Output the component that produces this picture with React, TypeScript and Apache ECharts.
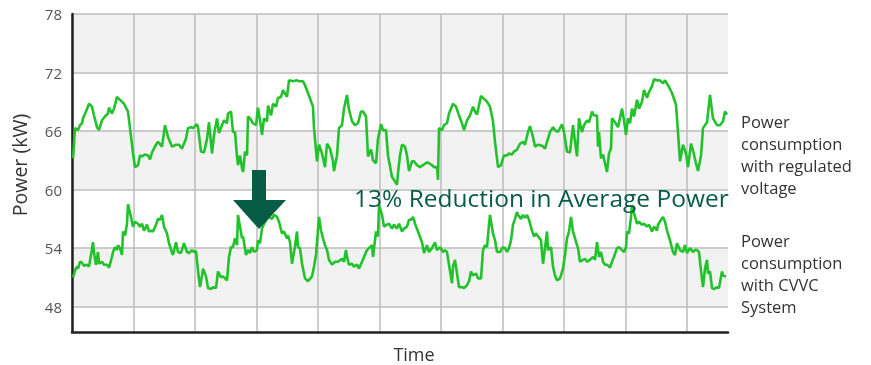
import React, { useEffect, useRef } from "react";
import * as echarts from "echarts";

const yTicks = [48, 54, 60, 66, 72, 78];
const yMin = 45.4;
const yMax = 78;
const timeMax = 656;
const timeStep = 61.5;

const regulated: [number, number][] = [
  [1,63.2],[3,66.3],[6,66.1],[8,66.6],[10,66.8],[11,67.3],[14,68.0],[17,68.8],[20,68.5],[22,67.6],[25,66.4],[27,66.1],[30,67.1],[33,67.5],[36,67.8],[37,68.4],[40,67.8],[42,68.3],[45,69.5],[48,69.2],[52,68.8],[56,68.0],[58,66.3],[60,64.6],[61,63.7],[63,62.3],[66,62.5],[68,63.5],[70,63.4],[73,63.6],[76,63.5],[78,63.1],[80,63.8],[84,64.6],[86,64.9],[90,64.4],[93,66.6],[96,65.4],[100,64.4],[104,64.6],[107,64.6],[110,64.2],[114,65.2],[116,66.3],[119,66.4],[121,66.3],[125,66.7],[126,66.4],[129,63.9],[132,63.8],[135,65.2],[137,66.9],[140,63.7],[142,65.6],[145,67.3],[147,65.8],[150,66.6],[152,67.1],[155,66.8],[156,67.8],[159,68.0],[161,65.9],[163,65.9],[165,63.4],[166,62.5],[168,63.5],[170,62.2],[171,61.8],[173,63.9],[175,63.5],[176,67.5],[178,67.3],[181,66.8],[184,66.6],[186,68.4],[189,66.4],[190,65.6],[192,67.3],[195,67.0],[196,68.6],[199,67.6],[201,68.8],[204,68.5],[206,69.4],[209,69.5],[211,70.2],[215,69.5],[217,71.2],
  [221,71.1],[225,71.2],[227,71.1],[231,71.1],[233,70.7],[236,69.9],[241,68.5],[242,66.3],[245,62.9],[247,64.6],[250,63.7],[253,62.3],[255,64.7],[258,64.2],[261,62.9],[262,61.9],[265,63.5],[267,66.3],[270,66.6],[272,68.3],[275,69.7],[277,68.2],[280,67.0],[283,66.6],[286,66.8],[289,68.0],[291,68.0],[294,67.5],[296,63.4],[299,64.1],[301,63.0],[304,62.7],[306,65.2],[309,66.7],[311,66.1],[314,66.1],[316,63.5],[320,61.3],[322,61.0],[325,60.5],[326,61.7],[328,63.5],[330,64.6],[333,64.4],[335,63.5],[337,61.9],[340,62.9],[342,62.9],[345,62.5],[348,62.3],[351,62.5],[355,62.8],[357,62.7],[360,62.5],[362,62.3],[365,62.3],[366,61.0],[367,66.3],[370,66.1],[372,66.6],[375,66.8],[377,67.8],[381,68.8],[384,68.5],[387,67.6],[390,66.8],[392,66.1],[395,67.1],[398,67.6],[401,68.5],[403,68.0],[405,67.7],[409,69.6],[411,69.4],[415,69.0],[418,68.5],[421,67.0],[423,64.9],[425,63.2],[426,62.3],[429,62.5],[432,63.5],[435,63.5],[437,63.7],[440,63.6],[442,63.9],[445,64.1],[448,64.7],
  [451,64.9],[453,64.6],[456,65.9],[458,66.5],[461,65.4],[463,64.4],[466,64.6],[470,64.5],[473,64.2],[475,64.9],[478,65.9],[481,66.4],[483,66.1],[486,65.9],[490,66.7],[492,65.9],[495,63.9],[498,63.8],[501,66.6],[503,64.9],[505,63.4],[507,67.3],[510,65.9],[512,66.6],[515,67.1],[517,66.9],[520,68.0],[522,67.6],[525,67.6],[526,64.4],[527,65.9],[529,63.2],[531,63.6],[535,61.8],[537,63.7],[539,64.2],[540,67.3],[543,66.9],[546,66.4],[550,68.3],[552,67.1],[554,65.6],[556,67.3],[558,66.8],[560,68.3],[562,67.5],[565,69.2],[567,68.3],[570,69.0],[572,70.2],[575,69.4],[577,70.0],[580,70.6],[582,71.3],[585,71.2],[588,71.2],[591,70.9],[593,71.2],[596,70.7],[600,69.9],[604,68.7],[606,65.9],[608,62.9],[611,64.6],[614,63.7],[616,62.3],[619,64.7],[621,64.0],[624,62.7],[626,61.9],[629,63.5],[631,66.3],[635,66.9],[638,69.7],[641,67.3],[645,66.6],[648,66.6],[651,67.0],[653,68.0],[655,67.7]
];

const cvvc: [number, number][] = [
  [1,51.0],[3,51.7],[5,52.1],[6,51.9],[8,52.6],[10,52.5],[12,52.2],[15,52.3],[17,52.1],[19,53.3],[21,54.6],[22,53.5],[24,52.3],[26,53.6],[27,52.4],[30,52.6],[32,52.3],[35,52.3],[37,52.0],[40,53.1],[41,53.6],[43,54.1],[45,53.8],[46,54.3],[48,54.0],[50,53.3],[51,55.7],[53,55.3],[55,56.5],[56,58.5],[59,57.2],[61,56.2],[63,56.7],[66,56.5],[68,56.2],[70,56.5],[72,55.8],[75,56.4],[77,55.7],[79,55.8],[81,55.7],[84,56.4],[86,57.0],[88,56.9],[90,57.4],[92,56.2],[95,55.5],[97,54.5],[100,53.5],[101,53.3],[104,54.6],[106,53.6],[109,53.5],[112,54.5],[115,53.6],[117,53.5],[120,53.8],[122,53.6],[124,53.7],[126,51.7],[128,50.0],[130,51.2],[131,51.9],[134,51.1],[136,49.9],[139,49.8],[141,50.0],[144,49.9],[146,51.6],[149,51.0],[151,51.1],[155,50.7],[157,53.1],[159,54.1],[161,54.1],[163,55.0],[165,54.3],[166,57.4],[168,56.2],[170,55.0],[171,55.2],[174,53.3],[176,53.8],[178,53.5],[180,54.1],[182,53.6],[185,53.8],[186,54.8],[188,54.5],[190,56.0],[192,56.5],[195,57.0],[197,57.2],[200,57.0],[202,57.4],[205,57.2],[207,56.7],[210,55.5],[212,55.7],[215,55.0],[216,55.3],[218,54.6],[220,52.4],[223,54.2],
  [225,55.7],[226,54.1],[228,54.0],[230,52.4],[231,51.9],[233,50.9],[236,50.6],[240,51.1],[242,52.1],[244,53.3],[245,54.6],[247,57.2],[249,55.8],[251,55.0],[253,54.3],[255,53.8],[257,52.8],[260,52.3],[263,52.6],[266,52.6],[270,52.9],[272,52.6],[274,53.8],[275,53.1],[277,52.3],[280,52.4],[282,52.1],[285,52.3],[287,51.9],[290,52.6],[292,53.1],[295,53.8],[297,54.0],[300,54.3],[301,53.1],[304,55.7],[306,55.2],[307,58.4],[310,57.4],[312,56.2],[315,56.4],[317,56.5],[320,56.0],[322,56.4],[325,56.0],[327,56.5],[330,55.7],[332,56.0],[335,56.2],[337,56.9],[339,56.9],[341,57.2],[343,56.5],[346,55.7],[350,54.6],[352,53.5],[355,54.3],[357,53.6],[360,54.0],[363,54.6],[365,53.8],[368,54.1],[371,53.6],[373,53.8],[375,53.6],[377,52.3],[380,50.4],[381,52.1],[383,52.8],[385,51.4],[387,50.0],[390,50.0],[392,49.9],[395,50.2],[397,50.6],[399,51.6],[401,51.2],[404,51.4],[406,50.9],[409,50.9],[411,53.8],[413,54.3],[415,54.1],[417,56.4],[418,57.4],[421,55.5],[423,54.8],[425,53.6],[428,53.6],[431,54.1],[433,54.0],[435,53.6],[437,54.0],[439,54.8],[441,56.4],[443,57.0],[445,57.7],
  [446,57.4],[449,57.0],[451,57.4],[453,57.1],[455,57.4],[457,56.9],[460,55.8],[462,55.2],[464,55.5],[466,55.2],[469,54.8],[471,52.4],[473,54.0],[475,55.7],[476,53.8],[479,54.1],[481,52.1],[483,51.2],[485,50.7],[488,50.9],[491,51.9],[493,53.3],[495,55.0],[497,55.7],[499,57.2],[501,55.7],[503,55.0],[505,54.3],[506,54.0],[508,52.6],[511,52.8],[513,52.9],[515,52.6],[518,52.8],[521,53.1],[523,52.8],[525,54.6],[527,53.1],[529,53.6],[531,52.6],[533,52.3],[535,52.3],[538,52.0],[540,52.6],[542,53.1],[545,54.0],[547,54.1],[550,53.8],[552,53.6],[554,54.1],[555,55.7],[557,55.5],[559,57.2],[560,58.4],[562,57.6],[565,56.5],[567,56.7],[570,56.4],[572,56.5],[575,56.2],[577,56.4],[580,55.7],[582,56.2],[585,55.8],[586,56.4],[589,56.9],[591,57.2],[593,56.7],[595,55.8],[598,54.8],[601,53.6],[603,53.3],[605,54.5],[608,53.8],[611,53.6],[613,54.3],[615,53.5],[618,54.0],[621,53.6],[623,53.8],[625,53.8],[627,53.6],[629,51.7],[631,50.0],[633,51.9],[635,52.8],[636,51.4],[638,51.6],[640,49.9],[642,49.8],[645,50.0],[647,49.9],[650,51.6],[651,51.2],[654,51.1]
];

const FONT = "'Open Sans', 'Noto Sans', sans-serif";
const LINE_GREEN = "#22c22c";
const DARK_GREEN = "#075c45";

export default function App() {
  const ref = useRef<HTMLDivElement>(null);
  useEffect(() => {
    if (!ref.current) return;
    const chart = echarts.init(ref.current, undefined, { renderer: "svg" });
    const lineStyle = { color: LINE_GREEN, width: 2.6 };
    chart.setOption({
      animation: false,
      textStyle: { fontFamily: FONT },
      grid: { left: 72, right: 143, top: 14, bottom: 33, containLabel: false },
      xAxis: {
        type: "value",
        min: 0,
        max: timeMax,
        interval: timeStep,
        axisLine: { show: true, lineStyle: { color: "#222", width: 2.5 } },
        axisTick: { show: false },
        axisLabel: { show: false },
        splitLine: { show: true, showMaxLine: false, lineStyle: { color: "#bdbdbd", width: 1.5 } },
      },
      yAxis: {
        type: "value",
        min: yMin,
        max: yMax,
        axisLine: { show: true, lineStyle: { color: "#222", width: 2.5 } },
        axisTick: { show: false, customValues: yTicks },
        axisLabel: { customValues: yTicks, fontSize: 15, color: "#555", margin: 10, fontFamily: FONT },
        splitLine: { show: true, lineStyle: { color: "#bdbdbd", width: 1.5 } },
        splitArea: { show: true, areaStyle: { color: ["#f2f2f2", "#ffffff"] } },
      },
      series: [
        { type: "line", name: "Power consumption with regulated voltage", data: regulated, showSymbol: false, lineStyle, itemStyle: { color: LINE_GREEN } },
        { type: "line", name: "Power consumption with CVVC System", data: cvvc, showSymbol: false, lineStyle, itemStyle: { color: LINE_GREEN } },
      ],
      graphic: [
        { type: "text", x: 19, y: 165, rotation: Math.PI / 2, style: { text: "Power (kW)", fontSize: 19.5, fill: "#333", fontFamily: FONT, align: "center", verticalAlign: "middle" } },
        { type: "text", x: 414, y: 344, style: { text: "Time", fontSize: 18, lineHeight: 20, fill: "#333", fontFamily: FONT, align: "center", verticalAlign: "top" } },
        { type: "text", x: 354, y: 197, style: { text: "13% Reduction in Average Power", fontSize: 24.5, fill: DARK_GREEN, fontFamily: FONT, verticalAlign: "middle" }, z: 10 },
        { type: "text", x: 741, y: 110, style: { text: "Power\nconsumption\nwith regulated\nvoltage", fontSize: 16.5, lineHeight: 22, fill: "#333", fontFamily: FONT, verticalAlign: "top" } },
        { type: "text", x: 741, y: 229, style: { text: "Power\nconsumption\nwith CVVC\nSystem", fontSize: 16.5, lineHeight: 22, fill: "#333", fontFamily: FONT, verticalAlign: "top" } },
        { type: "rect", shape: { x: 252, y: 170, width: 14, height: 31 }, style: { fill: DARK_GREEN }, z: 10 },
        { type: "polygon", shape: { points: [[233, 200], [286, 200], [259, 229]] }, style: { fill: DARK_GREEN }, z: 10 },
      ],
    });
    return () => chart.dispose();
  }, []);
  return <div ref={ref} style={{ position: "fixed", left: 0, top: 0, width: 871, height: 365 }} />;
}
